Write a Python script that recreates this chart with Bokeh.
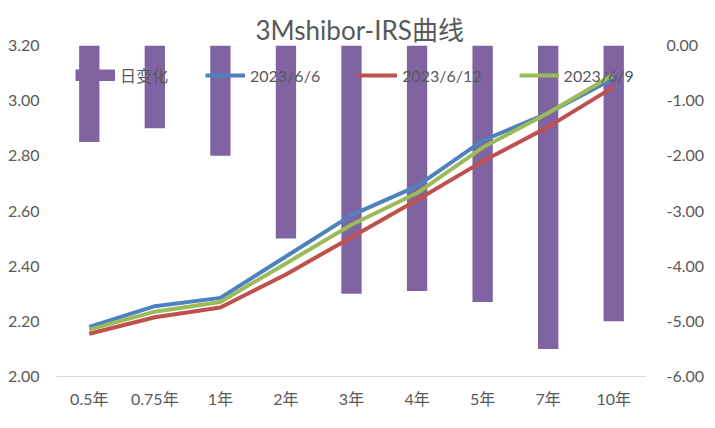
from bokeh.plotting import figure
from bokeh.models import (Range1d, LinearAxis, FixedTicker, NumeralTickFormatter,
                          Legend, LegendItem, FactorRange)
from bokeh.embed import file_html
from bokeh.resources import INLINE

categories = ["0.5年", "0.75年", "1年", "2年", "3年", "4年", "5年", "7年", "10年"]
daily_change = [-1.75, -1.5, -2.0, -3.5, -4.5, -4.45, -4.65, -5.5, -5.0]
s_0606 = [2.18, 2.255, 2.285, 2.435, 2.585, 2.69, 2.855, 2.955, 3.08]
s_0612 = [2.155, 2.215, 2.25, 2.37, 2.505, 2.64, 2.78, 2.905, 3.05]
s_0609 = [2.17, 2.235, 2.27, 2.41, 2.55, 2.665, 2.83, 2.955, 3.095]
left_ticks = [2.0, 2.2, 2.4, 2.6, 2.8, 3.0, 3.2]
right_ticks = [-6, -5, -4, -3, -2, -1, 0]
title_text = "3Mshibor-IRS曲线"

FONT = "Lato, 'Noto Sans CJK SC', sans-serif"
GRAY = "#595959"
PURPLE = "#8064A2"

p = figure(width=707, height=420, x_range=FactorRange(*categories, range_padding=0),
           y_range=Range1d(2.0, 3.2), output_backend="svg", toolbar_location=None,
           min_border_left=56, min_border_right=49, min_border_top=45, min_border_bottom=44,
           title=title_text)
p.title.align = "left"
p.title.offset = 199
p.title.text_font = FONT
p.title.text_font_size = "26px"
p.title.text_font_style = "normal"
p.title.text_color = GRAY
p.title.standoff = 0
p.outline_line_color = None
p.xgrid.visible = False
p.ygrid.visible = False
p.extra_y_ranges = {"right": Range1d(-6, 0)}

bars = p.vbar(x=categories, top=0, bottom=daily_change, width=0.31, y_range_name="right",
              fill_color=PURPLE, line_color=None)
r1 = p.line(categories, s_0606, line_width=4, line_color="#4F81BD", line_join="round")
r2 = p.line(categories, s_0612, line_width=4, line_color="#C0504D", line_join="round")
r3 = p.line(categories, s_0609, line_width=4, line_color="#9BBB59", line_join="round")
# legend swatch for the bar series (one invisible NaN point, drawn only in the legend)
swatch = p.line(x=[categories[0]], y=[float("nan")], line_width=12, line_color=PURPLE,
                line_cap="butt")

p.yaxis.ticker = FixedTicker(ticks=left_ticks)
p.yaxis.formatter = NumeralTickFormatter(format="0.00")
rax = LinearAxis(y_range_name="right", ticker=FixedTicker(ticks=right_ticks),
                 formatter=NumeralTickFormatter(format="0.00"))
p.add_layout(rax, "right")
for ax in (p.yaxis[0], rax):
    ax.axis_line_color = None
    ax.major_tick_line_color = None
    ax.minor_tick_line_color = None
    ax.major_label_text_font = FONT
    ax.major_label_text_font_size = "16px"
    ax.major_label_text_color = GRAY
p.yaxis[0].major_label_standoff = 11
rax.major_label_standoff = 14

xa = p.xaxis[0]
xa.axis_line_color = "#D9D9D9"
xa.axis_line_width = 1
xa.major_tick_line_color = None
xa.minor_tick_line_color = None
xa.major_label_text_font = FONT
xa.major_label_text_font_size = "16px"
xa.major_label_text_color = GRAY
xa.major_label_standoff = 6

legend = Legend(items=[LegendItem(label="日变化", renderers=[swatch]),
                       LegendItem(label="2023/6/6", renderers=[r1]),
                       LegendItem(label="2023/6/12", renderers=[r2]),
                       LegendItem(label="2023/6/9", renderers=[r3])],
                orientation="horizontal", location=(19, 289), glyph_width=40, glyph_height=12,
                label_height=16, label_standoff=5, spacing=37, padding=0, margin=0,
                border_line_color=None, background_fill_alpha=0,
                label_text_font=FONT, label_text_font_size="16px", label_text_color=GRAY)
p.add_layout(legend)

open("out.html", "w").write(file_html(p, INLINE))
